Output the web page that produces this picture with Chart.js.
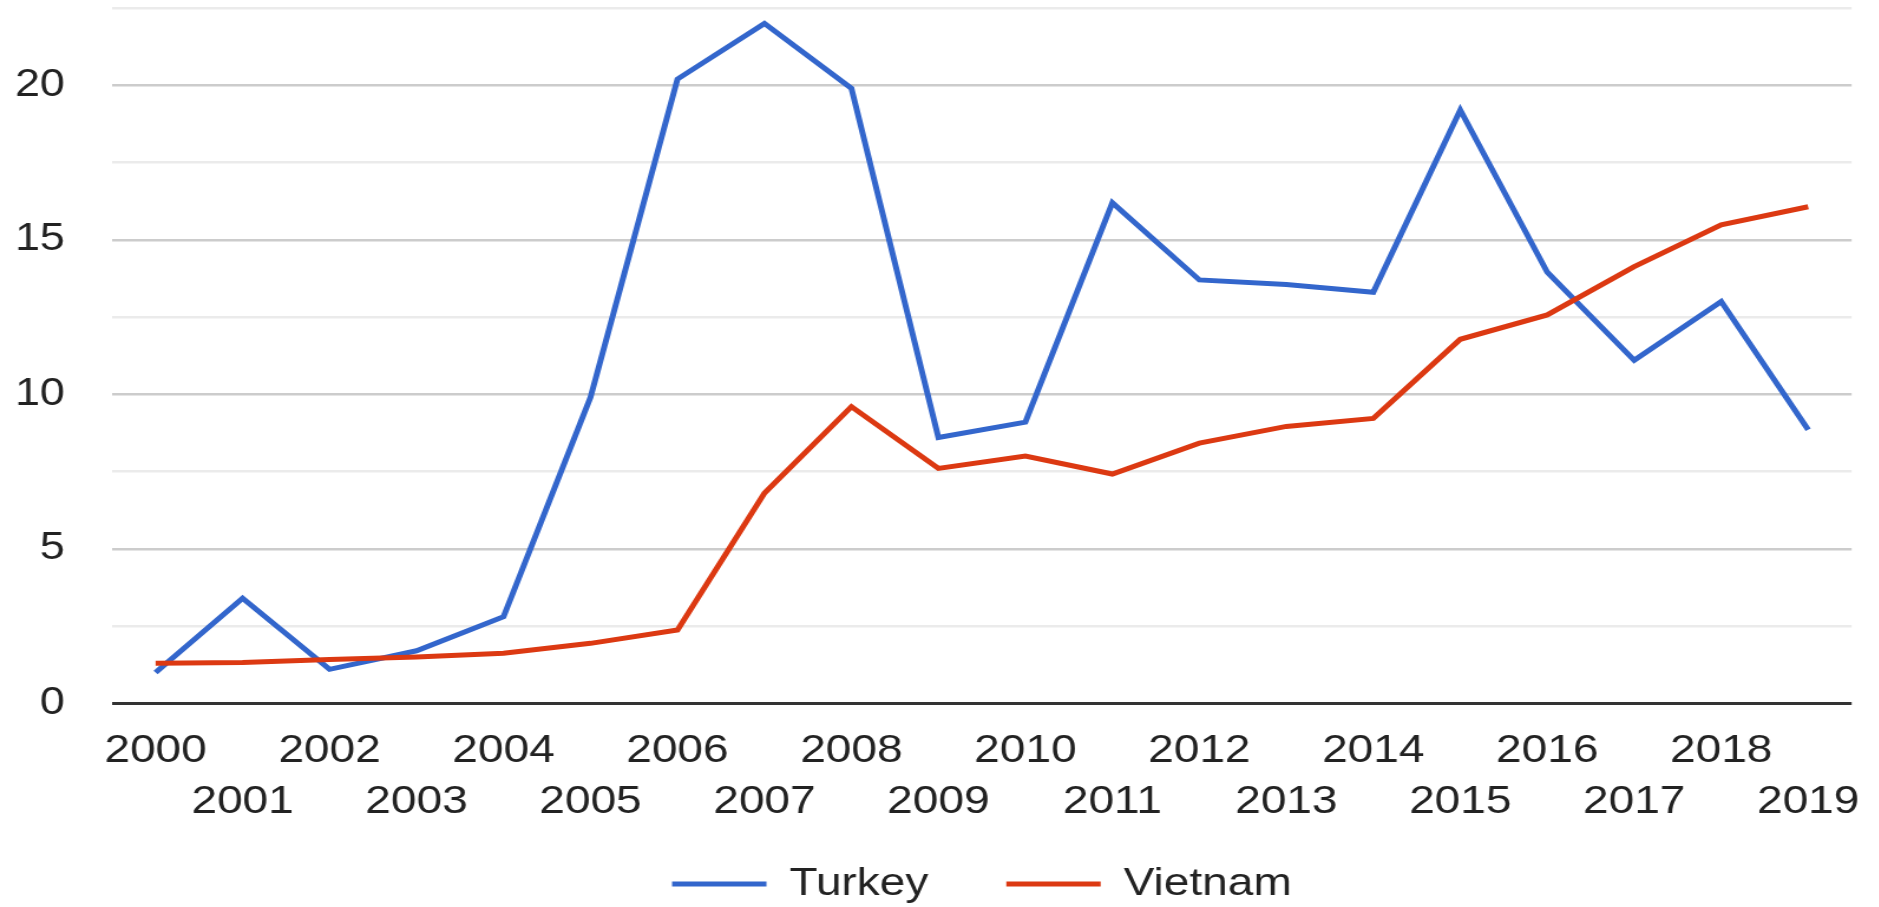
<!DOCTYPE html>
<html>
<head>
<meta charset="utf-8">
<script src="https://cdn.jsdelivr.net/npm/chart.js@4.4.1/dist/chart.umd.min.js"></script>
<style>
  html, body { margin: 0; padding: 0; background: #ffffff; overflow: hidden; }
  #wrap { width: 1592px; height: 907px; transform: scaleX(1.18); transform-origin: 0 0; position: relative; }
</style>
</head>
<body>
<div id="wrap"><canvas id="c"></canvas></div>
<script>
const years = ['2000','2001','2002','2003','2004','2005','2006','2007','2008','2009',
               '2010','2011','2012','2013','2014','2015','2016','2017','2018','2019'];
const turkey  = [1.0, 3.4, 1.1, 1.7, 2.8, 9.9, 20.2, 22.0, 19.9, 8.6,
                 9.1, 16.2, 13.7, 13.55, 13.3, 19.2, 13.95, 11.1, 13.0, 8.85];
const vietnam = [1.3, 1.32, 1.42, 1.5, 1.62, 1.94, 2.37, 6.8, 9.6, 7.6,
                 8.0, 7.42, 8.42, 8.96, 9.22, 11.78, 12.57, 14.13, 15.48, 16.07];
const seriesNames = ['Turkey', 'Vietnam'];
const yLabelValues = [0, 5, 10, 15, 20];

const FONT = "'Liberation Sans', Arial, sans-serif";
const BLUE = '#3366cc', RED = '#dc3912';

new Chart(document.getElementById('c'), {
  type: 'line',
  data: {
    labels: years,
    datasets: [
      { label: seriesNames[0], data: turkey, borderColor: BLUE, backgroundColor: BLUE,
        borderWidth: 5, pointRadius: 0, tension: 0, order: 1 },
      { label: seriesNames[1], data: vietnam, borderColor: RED, backgroundColor: RED,
        borderWidth: 5, pointRadius: 0, tension: 0, order: 0 }
    ]
  },
  options: {
    responsive: true,
    maintainAspectRatio: false,
    animation: false,
    devicePixelRatio: 1,
    layout: { padding: { left: 0, right: 22.8, top: 8, bottom: 0 } },
    plugins: {
      tooltip: { enabled: false },
      legend: {
        position: 'bottom',
        fullSize: false,
        maxHeight: 108.5,
        labels: {
          sort: (a, b) => a.datasetIndex - b.datasetIndex,
          boxWidth: 80,
          boxHeight: 0,
          padding: 66,
          color: '#222',
          font: { family: FONT, size: 39 }
        }
      }
    },
    scales: {
      x: {
        offset: true,
        grid: { display: false, drawTicks: false },
        border: { display: false },
        afterFit: (s) => { s.height = 95.2; s.paddingLeft = 0; s.paddingRight = 0; },
        ticks: {
          autoSkip: false,
          maxRotation: 0,
          minRotation: 0,
          mirror: true,
          padding: -73.2,
          color: '#222',
          font: { family: FONT, size: 39, lineHeight: 51 / 39 },
          callback: function (v, i) {
            const y = years[i];
            return i % 2 === 0 ? [y, ''] : ['', y];
          }
        }
      },
      y: {
        min: 0,
        max: 22.5,
        afterFit: (s) => { s.width = 95; s.paddingTop = 0; s.paddingBottom = 0; },
        border: { display: false },
        grid: {
          drawTicks: false,
          color: (ctx) => ctx.tick.value === 0 ? '#333333' : (ctx.tick.value % 5 === 0 ? '#cccccc' : '#ebebeb'),
          lineWidth: (ctx) => ctx.tick.value === 0 ? 3 : 2.4
        },
        ticks: {
          stepSize: 2.5,
          autoSkip: false,
          padding: 40,
          color: '#222',
          font: { family: FONT, size: 38 },
          callback: (v) => yLabelValues.includes(v) ? String(v) : ''
        }
      }
    }
  }
});
</script>
</body>
</html>
